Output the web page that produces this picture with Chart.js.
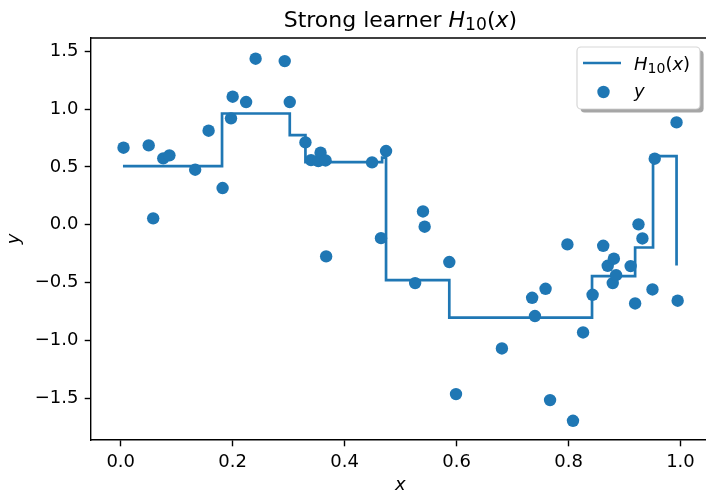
<!DOCTYPE html>
<html><head><meta charset="utf-8">
<script src="https://cdn.jsdelivr.net/npm/chart.js@4"></script>
<style>
html,body{margin:0;padding:0;background:#fff;overflow:hidden;width:706px;height:493px}
#wrap{position:relative;width:716px;height:493px}
canvas{display:block}
</style>
</head><body><div id="wrap"><canvas id="c" width="716" height="493"></canvas></div>
<script>
// ---- data ----
const pointX = [0.005,0.050,0.058,0.076,0.087,0.133,0.157,0.182,0.197,0.200,
                0.224,0.241,0.293,0.302,0.330,0.340,0.353,0.357,0.366,0.367,
                0.449,0.465,0.474,0.526,0.540,0.543,0.587,0.599,0.681,0.735,
                0.740,0.759,0.767,0.798,0.808,0.826,0.843,0.862,0.870,0.879,
                0.881,0.885,0.911,0.919,0.925,0.932,0.950,0.954,0.993,0.995];
const pointY = [0.666,0.686,0.055,0.574,0.600,0.476,0.813,0.317,0.920,1.107,
                1.061,1.436,1.415,1.061,0.712,0.559,0.550,0.623,0.556,-0.274,
                0.539,-0.116,0.637,-0.505,0.115,-0.017,-0.323,-1.465,-1.070,-0.632,
                -0.790,-0.554,-1.517,-0.170,-1.696,-0.932,-0.606,-0.182,-0.355,-0.505,
                -0.294,-0.436,-0.358,-0.681,0.003,-0.119,-0.560,0.571,0.885,-0.657];
const stepX = [0.004,0.181,0.302,0.330,0.467,0.474,0.587,0.842,0.919,0.951,0.993];
const stepY = [0.507,0.962,0.775,0.541,0.580,-0.480,-0.803,-0.445,-0.197,0.593,-0.352];
const xTicks = [0.0,0.2,0.4,0.6,0.8,1.0];
const yTicks = [-1.5,-1.0,-0.5,0.0,0.5,1.0,1.5];
const xLabel = 'x';
const yLabel = 'y';
const titleParts = [{t:'Strong learner ',i:false},{t:'H',i:true},{t:'10',i:false,sub:true},{t:'(',i:false},{t:'x',i:true},{t:')',i:false}];
const lineLegendParts = [{t:'H',i:true},{t:'10',i:false,sub:true},{t:'(',i:false},{t:'x',i:true},{t:')',i:false}];
const dotLegendParts = [{t:'y',i:true}];

const BLUE = '#1f77b4';
const FAM = "'DejaVu Sans'";
const SUB = 0.78;
const fmt = v => (v < 0 ? '\u2212' : '') + Math.abs(v).toFixed(1);

function fontStr(size, italic){ return (italic?'italic ':'') + size + 'px ' + FAM; }
function mathWidth(ctx, parts, size){
  let w = 0;
  for (const p of parts){ ctx.font = fontStr(p.sub?size*SUB:size, p.i); w += ctx.measureText(p.t).width; }
  return w;
}
function drawMath(ctx, parts, x, baseline, size, align){
  const w = mathWidth(ctx, parts, size);
  let cx = align === 'center' ? x - w/2 : x;
  ctx.textAlign = 'left'; ctx.textBaseline = 'alphabetic'; ctx.fillStyle = '#000';
  for (const p of parts){
    const s = p.sub ? size*SUB : size;
    ctx.font = fontStr(s, p.i);
    ctx.fillText(p.t, cx, baseline + (p.sub ? size*0.16 : 0));
    cx += ctx.measureText(p.t).width;
  }
}

const decor = {
  id:'decor',
  afterDraw(chart){
    const ctx = chart.ctx, a = chart.chartArea;
    ctx.save();
    // top & right spines
    ctx.strokeStyle = '#000'; ctx.lineWidth = 1.4;
    ctx.beginPath();
    ctx.moveTo(a.left, a.top); ctx.lineTo(a.right, a.top); ctx.lineTo(a.right, a.bottom);
    ctx.stroke();
    // title
    const cxm = (a.left + a.right)/2;
    drawMath(ctx, titleParts, cxm, a.top - 11.3, 22, 'center');
    // axis labels
    ctx.font = fontStr(18, true); ctx.textAlign = 'center'; ctx.textBaseline = 'alphabetic';
    ctx.fillText(xLabel, cxm, 490);
    ctx.save();
    ctx.translate(19, (a.top + a.bottom)/2);
    ctx.rotate(-Math.PI/2);
    ctx.fillText(yLabel, 0, 0);
    ctx.restore();
    // legend
    const lx = 577, ly = 47, lw = 123, lh = 62, r = 4;
    const rr = (x,y,w,h) => { ctx.beginPath(); ctx.roundRect(x,y,w,h,r); };
    ctx.fillStyle = 'rgba(77,77,77,0.5)';
    rr(lx+3.6, ly+3.6, lw, lh); ctx.fill();
    ctx.fillStyle = '#fff';
    rr(lx, ly, lw, lh); ctx.fill();
    ctx.strokeStyle = 'rgba(204,204,204,0.8)'; ctx.lineWidth = 1.2;
    rr(lx, ly, lw, lh); ctx.stroke();
    const ds = chart.data.datasets;
    ctx.strokeStyle = ds[1].borderColor; ctx.lineWidth = 2.7;
    ctx.beginPath(); ctx.moveTo(lx+6, 63); ctx.lineTo(lx+44, 63); ctx.stroke();
    ctx.fillStyle = ds[0].backgroundColor;
    ctx.beginPath(); ctx.arc(lx+26.5, 92, 6.2, 0, Math.PI*2); ctx.fill();
    drawMath(ctx, lineLegendParts, 634, 69.7, 18, 'left');
    drawMath(ctx, dotLegendParts, 634, 96.5, 18, 'left');
    ctx.restore();
  }
};

const tickFont = {family:'DejaVu Sans', size:18};
new Chart(document.getElementById('c'), {
  data:{
    datasets:[
      {type:'scatter', label:'y', data:pointX.map((x,i)=>({x, y:pointY[i]})),
       backgroundColor:BLUE, borderWidth:0, pointRadius:6.2, pointHoverRadius:6.2, order:0},
      {type:'line', label:'H10(x)', data:stepX.map((x,i)=>({x, y:stepY[i]})),
       borderColor:BLUE, borderWidth:2.7, pointRadius:0, fill:false, stepped:'before', tension:0, order:1}
    ]
  },
  options:{
    responsive:false, animation:false, devicePixelRatio:1,
    layout:{padding:{top:38, right:3.6, left:0, bottom:0}},
    plugins:{legend:{display:false}, tooltip:{enabled:false}, title:{display:false}},
    scales:{
      x:{type:'linear', min:-0.0531, max:1.0524,
         afterBuildTicks:s=>{ s.ticks = xTicks.map(v=>({value:v})); },
         afterFit:s=>{ s.height = 53; },
         ticks:{font:tickFont, color:'#000', padding:5, maxRotation:0, autoSkip:false, callback:v=>fmt(v)},
         grid:{display:true, drawOnChartArea:false, drawTicks:true, tickLength:6.3, tickWidth:1.4, tickColor:'#000'},
         border:{display:true, color:'#000', width:1.4}},
      y:{type:'linear', min:-1.862, max:1.615,
         afterBuildTicks:s=>{ s.ticks = yTicks.map(v=>({value:v})); },
         afterFit:s=>{ s.width = 91; },
         ticks:{font:tickFont, color:'#000', padding:6.3, autoSkip:false, callback:v=>fmt(v)},
         grid:{display:true, drawOnChartArea:false, drawTicks:true, tickLength:6.3, tickWidth:1.4, tickColor:'#000'},
         border:{display:true, color:'#000', width:1.4}}
    }
  },
  plugins:[decor]
});
</script>
</body></html>
